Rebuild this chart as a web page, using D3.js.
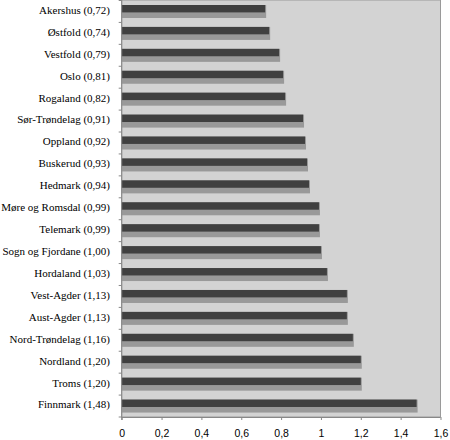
<!DOCTYPE html>
<html>
<head>
<meta charset="utf-8">
<script src="https://cdn.jsdelivr.net/npm/d3@7"></script>
<style>
  body { margin: 0; background: #fff; }
  svg { display: block; }
</style>
</head>
<body>
<div id="chart"></div>
<script>
var counties = ["Akershus", "Østfold", "Vestfold", "Oslo", "Rogaland", "Sør-Trøndelag",
  "Oppland", "Buskerud", "Hedmark", "Møre og Romsdal", "Telemark", "Sogn og Fjordane",
  "Hordaland", "Vest-Agder", "Aust-Agder", "Nord-Trøndelag", "Nordland", "Troms", "Finnmark"];
var values = [0.72, 0.74, 0.79, 0.81, 0.82, 0.91, 0.92, 0.93, 0.94, 0.99, 0.99, 1.00,
  1.03, 1.13, 1.13, 1.16, 1.20, 1.20, 1.48];
var xTicks = [0, 0.2, 0.4, 0.6, 0.8, 1, 1.2, 1.4, 1.6];

var svgWidth = 450;
var svgHeight = 440;

var plot = { left: 121.7, right: 440.5, top: 0.5, bottom: 417 };

var no = d3.formatLocale({ decimal: ",", thousands: " ", grouping: [3], currency: ["", " kr"] });
var fmt2 = no.format(".2f");
var fmtTick = no.format("~g");

var data = counties.map((c, i) => ({ name: c, value: values[i] }));

var svg = d3.select("#chart")
  .append("svg")
  .attr("width", svgWidth)
  .attr("height", svgHeight);

var x = d3.scaleLinear()
  .domain([0, 1.6])
  .range([plot.left, plot.right]);

var y = d3.scaleBand()
  .domain(counties)
  .range([plot.top, plot.bottom]);

// plot background
svg.append("rect")
  .attr("x", plot.left)
  .attr("y", 0)
  .attr("width", plot.right - plot.left)
  .attr("height", plot.bottom)
  .attr("fill", "#d3d3d3")
  .attr("stroke", "#9a9a9a")
  .attr("stroke-width", 1);

// bars: light front face, dark top face
var bars = svg.selectAll(".bar")
  .data(data)
  .enter()
  .append("g")
  .attr("class", "bar");

bars.append("rect")
  .attr("x", plot.left)
  .attr("y", d => y(d.name) + 4.5)
  .attr("width", d => x(d.value) - plot.left + 1)
  .attr("height", 13)
  .attr("fill", "#999999");

bars.append("rect")
  .attr("x", plot.left)
  .attr("y", d => y(d.name) + 4.5)
  .attr("width", d => x(d.value) - plot.left)
  .attr("height", 7.4)
  .attr("fill", "#404040");

// band boundary ticks
svg.append("g")
  .selectAll("line")
  .data(d3.range(counties.length + 1))
  .enter()
  .append("line")
  .attr("x1", plot.left - 3)
  .attr("x2", plot.left)
  .attr("y1", i => plot.top + i * y.step())
  .attr("y2", i => plot.top + i * y.step())
  .attr("stroke", "#888");

// y axis line
svg.append("line")
  .attr("x1", plot.left)
  .attr("x2", plot.left)
  .attr("y1", 0)
  .attr("y2", plot.bottom + 3)
  .attr("stroke", "#888");

// category labels
svg.append("g")
  .selectAll("text")
  .data(data)
  .enter()
  .append("text")
  .attr("x", 110)
  .attr("y", d => y(d.name) + 9.5)
  .attr("dy", "0.35em")
  .attr("text-anchor", "end")
  .attr("font-family", "'Liberation Serif', 'Times New Roman', serif")
  .attr("font-size", "11px")
  .attr("fill", "#000")
  .text(d => `${d.name} (${fmt2(d.value)})`);

// x axis
var xAxis = d3.axisBottom(x)
  .tickValues(xTicks)
  .tickSize(3)
  .tickPadding(10)
  .tickFormat(fmtTick);

svg.append("g")
  .attr("class", "x axis")
  .attr("transform", `translate(0, ${plot.bottom})`)
  .call(xAxis)
  .call(g => g.select(".domain").attr("stroke", "#888").attr("d", `M${plot.left},0.5H${plot.right}`))
  .call(g => g.selectAll(".tick line").attr("stroke", "#888"))
  .call(g => g.selectAll(".tick text")
    .attr("font-family", "'Liberation Sans', Arial, sans-serif")
    .attr("font-size", "10.5px")
    .attr("fill", "#000"));
</script>
</body>
</html>
